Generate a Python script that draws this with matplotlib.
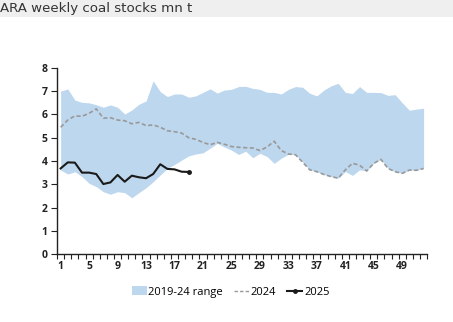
import numpy as np
import matplotlib
matplotlib.use("Agg")
import matplotlib.pyplot as plt
from matplotlib.patches import Rectangle
from matplotlib.lines import Line2D
from matplotlib.patches import Patch

# Weekly ARA coal stocks, million tonnes
weeks = list(range(1, 53))

range_high = [7.0, 7.1, 6.62, 6.52, 6.5, 6.42, 6.31, 6.41, 6.31, 6.02,
              6.19, 6.44, 6.58, 7.45, 6.98, 6.77, 6.88, 6.88, 6.74, 6.8,
              6.95, 7.1, 6.92, 7.05, 7.08, 7.2, 7.21, 7.12, 7.08, 6.95,
              6.95, 6.88, 7.08, 7.2, 7.17, 6.91, 6.8, 7.05, 7.23, 7.34,
              6.95, 6.9, 7.2, 6.95, 6.95, 6.94, 6.82, 6.85, 6.5, 6.18,
              6.23, 6.27]

range_low = [3.61, 3.44, 3.54, 3.33, 3.04, 2.9, 2.68, 2.57, 2.68, 2.64,
             2.42, 2.64, 2.85, 3.11, 3.4, 3.68, 3.85, 4.04, 4.22, 4.3,
             4.35, 4.55, 4.76, 4.6, 4.47, 4.28, 4.42, 4.14, 4.33, 4.19,
             3.9, 4.12, 4.29, 4.27, 3.95, 3.62, 3.54, 3.42, 3.33, 3.26,
             3.55, 3.38, 3.62, 3.57, 3.9, 4.07, 3.68, 3.54, 3.47, 3.61,
             3.6, 3.68]

stocks_2024 = [5.45, 5.76, 5.94, 5.92, 6.05, 6.24, 5.84, 5.86, 5.76, 5.73,
               5.6, 5.66, 5.52, 5.55, 5.45, 5.3, 5.26, 5.2, 5.0, 4.93,
               4.8, 4.7, 4.8, 4.72, 4.62, 4.59, 4.57, 4.56, 4.45, 4.6,
               4.85, 4.45, 4.3, 4.27, 3.95, 3.62, 3.54, 3.42, 3.33, 3.26,
               3.62, 3.9, 3.82, 3.57, 3.9, 4.07, 3.68, 3.54, 3.47, 3.61,
               3.6, 3.68]

stocks_2025 = [3.68, 3.94, 3.93, 3.5, 3.5, 3.44, 3.01, 3.08, 3.4, 3.11,
               3.37, 3.3, 3.26, 3.44, 3.86, 3.66, 3.64, 3.54, 3.53]

xtick_labels = list(range(1, 50, 4))

plt.rcParams['font.family'] = ['Open Sans', 'DejaVu Sans']

fig = plt.figure(figsize=(4.53, 3.22), dpi=100)
fig.patch.set_facecolor('white')

# Grey header strip with title
fig.patches.append(Rectangle((0, 1 - 17 / 322), 1, 17 / 322,
                             transform=fig.transFigure, facecolor='#efefef',
                             edgecolor='none', zorder=0))
fig.text(0.0, 1 - 8.5 / 322, "ARA weekly coal stocks mn t", ha='left',
         va='center', fontsize=9.6, color='#333333', family='DejaVu Sans')

ax = fig.add_axes([0.126, 0.211, 0.817, 0.578])

w = np.array(weeks)
ax.fill_between(w, range_low, range_high, color='#bdd7ee', linewidth=0,
                zorder=1)
ax.plot(w, stocks_2024, color='#999999', linestyle=(0, (2.5, 1.5)),
        linewidth=1.2, zorder=2)
w25 = np.arange(1, len(stocks_2025) + 1)
ax.plot(w25, stocks_2025, color='#1a1a1a', linewidth=1.5, zorder=3)
ax.plot(w25[-1:], stocks_2025[-1:], 'o', color='#1a1a1a', markersize=2.5,
        zorder=3)

ax.set_xlim(0.5, 52.5)
ax.set_ylim(0, 8)
ax.set_yticks(range(0, 9))
ax.set_xticks(xtick_labels)
ax.set_xticks(np.arange(0.5, 53, 1), minor=True)
ax.tick_params(axis='x', which='major', length=0, pad=5, labelsize=7.5,
               colors='#222222')
ax.tick_params(axis='x', which='minor', length=3.5, width=0.8,
               direction='out', color='#222222')
ax.tick_params(axis='y', length=4, width=0.8, direction='out', pad=3,
               labelsize=7.5, colors='#222222')
for lbl in ax.get_xticklabels() + ax.get_yticklabels():
    lbl.set_fontweight('bold')

for side in ('top', 'right'):
    ax.spines[side].set_visible(False)
for side in ('left', 'bottom'):
    ax.spines[side].set_color('#222222')
    ax.spines[side].set_linewidth(1.0)

handles = [
    Patch(facecolor='#bdd7ee', edgecolor='none', label='2019-24 range'),
    Line2D([], [], color='#999999', linestyle=(0, (2.5, 1.5)), linewidth=1.0,
           label='2024'),
    Line2D([], [], color='#1a1a1a', linewidth=1.5, marker='o', markersize=2.5,
           label='2025'),
]
fig.legend(handles=handles, loc='center', bbox_to_anchor=(0.509, 0.093),
           ncol=3, frameon=False, fontsize=8, handlelength=1.35,
           handletextpad=0.15, columnspacing=1.0, handleheight=0.8)

fig.savefig('out.png', dpi=100)
